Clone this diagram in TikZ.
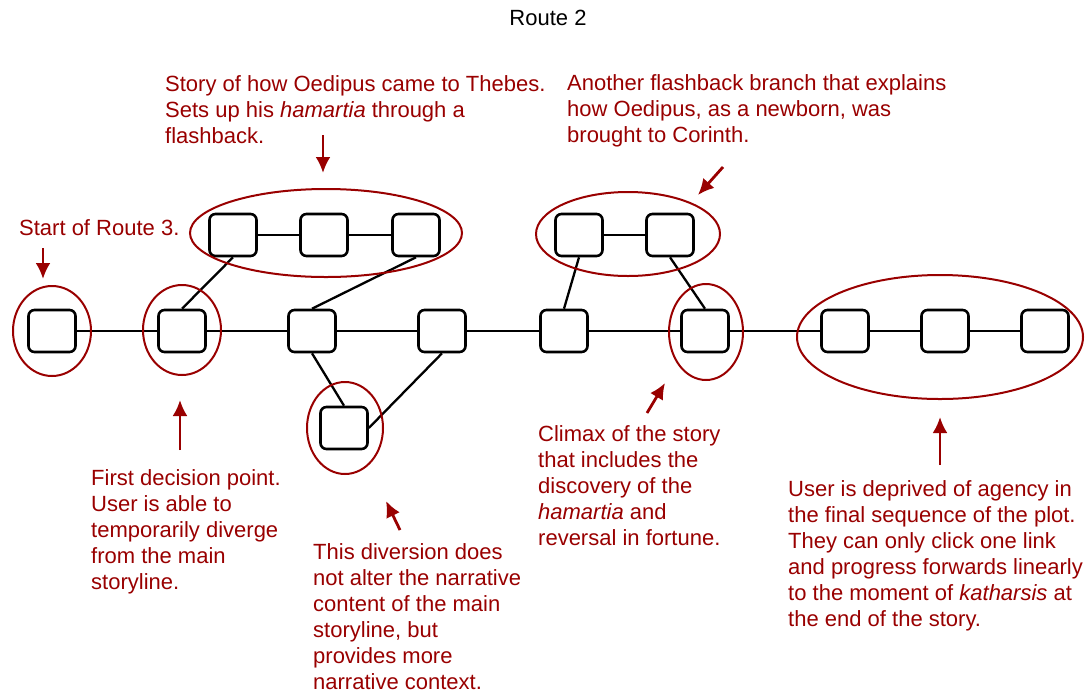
\documentclass[tikz,border=0pt]{standalone}
\usepackage{fontspec}
\setmainfont{Liberation Sans}
\usetikzlibrary{arrows.meta}
\definecolor{rosso}{RGB}{153,0,0}
\begin{document}
\begin{tikzpicture}[x=1pt, y=-1pt,
    box/.style={draw, line width=2.6pt, rounded corners=6pt, minimum width=47pt, minimum height=42pt, inner sep=0pt},
    linea/.style={line width=2.3pt},
    anello/.style={draw=rosso, line width=2pt},
    freccia/.style={draw=rosso, line width=2.8pt, -{Latex[length=16pt,width=15pt]}},
    nota/.style={text=rosso, align=left, anchor=base west, inner sep=0pt, font=\fontsize{22}{26}\selectfont}]
        \useasboundingbox (0,0) rectangle (1086,697);
        %titolo
        \node[anchor=base, inner sep=0pt, font=\fontsize{22}{26}\selectfont] (titolo) at (548,25) {Route 2};
        %disegno i nodi della storia principale
        \node[box] (m1) at (52,331) {};
        \node[box] (m2) at (182,331) {};
        \node[box] (m3) at (312,331) {};
        \node[box] (m4) at (442,331) {};
        \node[box] (m5) at (564,331) {};
        \node[box] (m6) at (705,331) {};
        \node[box] (m7) at (845,331) {};
        \node[box] (m8) at (945,331) {};
        \node[box] (m9) at (1045,331) {};
        %disegno i flashback e la diversione
        \node[box] (a1) at (233,235) {};
        \node[box] (a2) at (324,235) {};
        \node[box] (a3) at (416,235) {};
        \node[box] (b1) at (579,235) {};
        \node[box] (b2) at (670,235) {};
        \node[box] (d1) at (344,428) {};
        %collegamenti
        \draw[linea] (m1)--(m2)--(m3)--(m4)--(m5)--(m6)--(m7)--(m8)--(m9);
        \draw[linea] (a1)--(a2)--(a3);
        \draw[linea] (b1)--(b2);
        \draw[linea] (m2.north)--(a1.south);
        \draw[linea] (m3.north)--(a3.south);
        \draw[linea] (m3.south)--(d1.north);
        \draw[linea] (m4.south)--(d1.east);
        \draw[linea] (m5.north)--(b1.south);
        \draw[linea] (b2.south)--(m6.north);
        %disegno gli anelli rossi
        \draw[anello] (52,331) ellipse [x radius=39, y radius=45];
        \draw[anello] (182,330) ellipse [x radius=39, y radius=45];
        \draw[anello] (326,233) ellipse [x radius=136, y radius=44];
        \draw[anello] (628,234) ellipse [x radius=92, y radius=42];
        \draw[anello] (706,332) ellipse [x radius=37, y radius=48];
        \draw[anello] (940,337) ellipse [x radius=143, y radius=62];
        \draw[anello] (345,428) ellipse [x radius=38, y radius=46];
        %frecce
        \coordinate (f1a) at (43,248);  \coordinate (f1b) at (43,279);
        \coordinate (f2a) at (323,135); \coordinate (f2b) at (323,173);
        \coordinate (f3a) at (723,167); \coordinate (f3b) at (698,195);
        \coordinate (f4a) at (180,450); \coordinate (f4b) at (180,400);
        \coordinate (f5a) at (400,530); \coordinate (f5b) at (386,501);
        \coordinate (f6a) at (647,413); \coordinate (f6b) at (665,383);
        \coordinate (f7a) at (940,465); \coordinate (f7b) at (940,417);
        \foreach \i in {1,...,7} \draw[freccia] (f\i a)--(f\i b);
        %etichette (ancorate alla base dell'ultima riga)
        \node[nota] (nStoria) at (165,143) {Story of how Oedipus came to Thebes.\\ Sets up his \textit{hamartia} through a\\ flashback.};
        \node[nota] (nCorinto) at (567,142) {Another flashback branch that explains\\ how Oedipus, as a newborn, was\\ brought to Corinth.};
        \node[nota] (nRoute) at (19,235) {Start of Route 3.};
        \node[nota] (nScelta) at (91,589) {First decision point.\\ User is able to\\ temporarily diverge\\ from the main\\ storyline.};
        \node[nota] (nDiv) at (313,689) {This diversion does\\ not alter the narrative\\ content of the main\\ storyline, but\\ provides more\\ narrative context.};
        \node[nota] (nClimax) at (538,545) {Climax of the story\\ that includes the\\ discovery of the\\ \textit{hamartia} and\\ reversal in fortune.};
        \node[nota] (nFine) at (788,626) {User is deprived of agency in\\ the final sequence of the plot.\\ They can only click one link\\ and progress forwards linearly\\ to the moment of \textit{katharsis} at\\ the end of the story.};
\end{tikzpicture}
\end{document}
